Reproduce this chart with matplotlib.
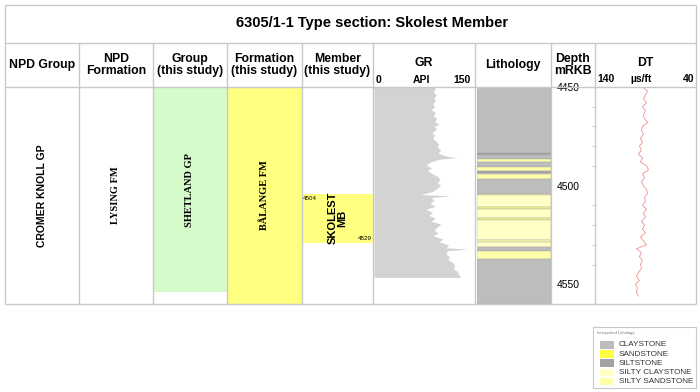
import matplotlib.pyplot as plt
from matplotlib.patches import Rectangle

plt.rcParams['font.family'] = ['Liberation Sans', 'DejaVu Sans']

# ---------------- data ----------------
title = '6305/1-1 Type section: Skolest Member'
header_labels = ['NPD Group', 'NPD\nFormation', 'Group\n(this study)', 'Formation\n(this study)',
                 'Member\n(this study)', 'GR', 'Lithology', 'Depth\nmRKB', 'DT']

depth_top, depth_base = 4450, 4560
depth_labels = [4450, 4500, 4550]

# stratigraphic units, one per column
unit_names = ['CROMER KNOLL GP', 'LYSING FM', 'SHETLAND GP', 'BÅLANGE FM', 'SKOLEST\nMB']
unit_tops = [4450, 4450, 4450, 4450, 4504]
unit_bases = [4560, 4560, 4554, 4560, 4529]
unit_colors = ['white', 'white', '#d5fbca', '#ffff80', '#ffff80']

# lithology column
lith_tops = [4450, 4483.3, 4484.5, 4486.7, 4488.2, 4490.8, 4492.6, 4493.8, 4494.2, 4496.4,
             4504, 4504.9, 4510.8, 4512, 4516.2, 4517.5, 4527.7, 4528.5, 4531, 4533, 4537.3]
lith_bases = lith_tops[1:] + [4560]
lith_types = ['CLAYSTONE', 'SILTSTONE', 'CLAYSTONE', 'SILTY SANDSTONE', 'CLAYSTONE',
              'SILTY SANDSTONE', 'SILTSTONE', 'CLAYSTONE', 'SILTY SANDSTONE', 'CLAYSTONE',
              'SANDSTONE', 'SILTY CLAYSTONE', 'SANDSTONE', 'SILTY CLAYSTONE', 'SANDSTONE',
              'SILTY CLAYSTONE', 'SILTY SANDSTONE', 'SILTY CLAYSTONE', 'CLAYSTONE',
              'SILTY SANDSTONE', 'CLAYSTONE']
legend_names = ['CLAYSTONE', 'SANDSTONE', 'SILTSTONE', 'SILTY CLAYSTONE', 'SILTY SANDSTONE']
legend_colors = ['#bdbdbd', '#ffff44', '#a3a3a3', '#ffffc6', '#ffffaa']

# gamma ray log (API)
gr_depth = [4450, 4451, 4452.5, 4454, 4455.5, 4457, 4458.5, 4460, 4461.5, 4463, 4464.5,
            4466, 4467.5, 4469, 4470, 4471.5, 4473, 4474.5, 4476, 4477.5, 4479, 4480.5,
            4482, 4483.5, 4485, 4485.8, 4486.5, 4488, 4489.5, 4491, 4492.5, 4494, 4495.5,
            4497, 4498.5, 4500, 4501.5, 4503, 4504.5, 4505.2, 4506, 4507.5, 4509, 4510.5,
            4512, 4513.5, 4515, 4516.5, 4518, 4519.5, 4521, 4522.5, 4524, 4525.5, 4527,
            4528.5, 4530, 4531.5, 4532.2, 4533, 4534.5, 4536, 4537.5, 4539, 4540.5, 4542,
            4543.5, 4545, 4546.5]
gr_api = [90, 92, 89, 93, 90, 92, 88, 91, 86, 92, 89,
          94, 91, 98, 90, 94, 87, 91, 88, 93, 97, 95,
          100, 96, 108, 124, 100, 85, 78, 86, 80, 88, 96,
          99, 95, 100, 94, 88, 70, 115, 86, 90, 84, 92,
          78, 88, 82, 92, 86, 100, 95, 90, 96, 89, 103,
          98, 112, 108, 141, 110, 108, 113, 111, 118, 121, 119,
          125, 127, 130]

# sonic log (us/ft)
dt_depth = [4450, 4452, 4454, 4456, 4458, 4460, 4462, 4464, 4466, 4468, 4470, 4472, 4474,
            4476, 4478, 4480, 4482, 4484, 4486, 4488, 4490, 4492, 4494, 4496, 4498, 4500,
            4502, 4504, 4506, 4508, 4510, 4512, 4514, 4516, 4518, 4520, 4522, 4524, 4526,
            4528, 4530, 4532, 4534, 4536, 4538, 4540, 4542, 4544, 4546, 4548, 4550, 4552,
            4554, 4556]
dt_us = [93, 88, 90, 92, 89, 93, 90, 92, 91, 88, 93, 94, 92,
         95, 93, 96, 94, 97, 93, 95, 89, 87, 93, 91, 94, 92,
         89, 88, 91, 90, 93, 89, 92, 90, 94, 91, 93, 90, 95,
         92, 89, 99, 94, 96, 93, 95, 94, 97, 99, 96, 100, 98,
         99, 97]

# ---------------- layout (pixels) ----------------
W, H = 700, 392
col_edges = [5, 79, 153, 227, 302, 373, 475, 551, 595, 696]
y_top, y_title, y_head, y_bot = 5, 43, 87, 304
grid = '#c8c8c8'


def frac(x0, y0, x1, y1):
    return [x0 / W, 1 - y1 / H, (x1 - x0) / W, (y1 - y0) / H]


fig = plt.figure(figsize=(7, 3.92), dpi=100)

# frame / header layer
ax0 = fig.add_axes([0, 0, 1, 1])
ax0.set_xlim(0, W)
ax0.set_ylim(H, 0)
ax0.axis('off')
ax0.set_zorder(10)

ax0.hlines([y_top, y_title, y_head, y_bot], col_edges[0], col_edges[-1], color=grid, lw=1)
ax0.vlines([col_edges[0], col_edges[-1]], y_top, y_bot, color=grid, lw=1)
ax0.vlines(col_edges[1:-1], y_title, y_bot, color=grid, lw=1)

ax0.text(372, 23, title, ha='center', va='center', fontsize=10.5, fontweight='bold')

for i, lab in enumerate(header_labels):
    xc = (col_edges[i] + col_edges[i + 1]) / 2
    yc = 65
    if lab in ('GR', 'DT'):
        yc = 63
    ax0.text(xc, yc, lab, ha='center', va='center', fontsize=8.8,
             fontweight='bold', linespacing=1.1)

# scale labels for GR and DT
ax0.text(376, 80, '0', ha='left', va='center', fontsize=7.5, fontweight='bold')
ax0.text(421, 80, 'API', ha='center', va='center', fontsize=7.5, fontweight='bold')
ax0.text(471, 80, '150', ha='right', va='center', fontsize=7.5, fontweight='bold')
ax0.text(597, 79, '140', ha='left', va='center', fontsize=7.5, fontweight='bold')
ax0.text(641, 79, 'µs/ft', ha='center', va='center', fontsize=7.5, fontweight='bold')
ax0.text(694, 79, '40', ha='right', va='center', fontsize=7.5, fontweight='bold')

# lithology legend
ax0.add_patch(Rectangle((593, 327), 103, 61, fc='white', ec=grid, lw=0.8))
ax0.text(597, 333, 'Interpreted Lithology', fontsize=3, color='#777777', va='center')
for i, (name, color) in enumerate(zip(legend_names, legend_colors)):
    y = 341 + i * 9.2
    ax0.add_patch(Rectangle((600, y), 14, 7.5, fc=color, ec='none'))
    ax0.text(619, y + 3.8, name, fontsize=5.9, va='center', color='#333333')

# stratigraphic columns
ax_s = fig.add_axes(frac(col_edges[0], y_head, col_edges[5], y_bot))
ax_s.set_xlim(col_edges[0], col_edges[5])
ax_s.set_ylim(depth_base, depth_top)
ax_s.axis('off')
unit_fonts = ['Liberation Sans', 'Liberation Serif', 'Liberation Serif', 'Liberation Serif',
              'Liberation Sans']
for i, name in enumerate(unit_names):
    x0, x1 = col_edges[i], col_edges[i + 1]
    top, base = unit_tops[i], unit_bases[i]
    ax_s.bar(x0, base - top, bottom=top, width=x1 - x0, align='edge',
             color=unit_colors[i], lw=0)
    ax_s.text((x0 + x1) / 2, (top + base) / 2, name, rotation=90, ha='center', va='center',
              fontsize=7.5 if i < 4 else 8, fontweight='bold', family=unit_fonts[i],
              linespacing=1.0)
    if i == 4:
        ax_s.text(x0 + 1, top + 1, str(top), fontsize=4.5, ha='left', va='top')
        ax_s.text(x1 - 1, base - 1, str(base), fontsize=4.5, ha='right', va='bottom')

# GR track
ax_gr = fig.add_axes(frac(374, y_head, 474, y_bot))
ax_gr.set_xlim(0, 150)
ax_gr.set_ylim(depth_base, depth_top)
ax_gr.axis('off')
ax_gr.fill_betweenx(gr_depth, 0, gr_api, color='#d3d3d3', lw=0)

# lithology track
ax_l = fig.add_axes(frac(477, y_head, 551, y_bot))
ax_l.set_xlim(0, 1)
ax_l.set_ylim(depth_base, depth_top)
ax_l.axis('off')
lith_color = dict(zip(legend_names, legend_colors))
lith_color['SANDSTONE'] = '#f8f880'
for top, base, kind in zip(lith_tops, lith_bases, lith_types):
    ax_l.bar(0, base - top, bottom=top, width=1, align='edge', color=lith_color[kind],
             edgecolor='#a8a8a8', lw=0.3)

# DT track with depth labels
ax_dt = fig.add_axes(frac(595, y_head, 696, y_bot))
ax_dt.set_xlim(140, 40)
ax_dt.set_ylim(depth_base, depth_top)
ax_dt.plot(dt_us, dt_depth, color='#f09090', lw=0.6)
for s in ax_dt.spines.values():
    s.set_visible(False)
ax_dt.set_xticks([])
ax_dt.set_yticks(depth_labels)
ax_dt.set_yticks(range(4460, 4560, 10), minor=True)
ax_dt.tick_params(axis='y', which='major', length=0, pad=11, labelsize=7.5)
ax_dt.tick_params(axis='y', which='minor', length=2, color='#c0c0c0')
ax_dt.patch.set_alpha(0)

fig.savefig('out.png', dpi=100)
